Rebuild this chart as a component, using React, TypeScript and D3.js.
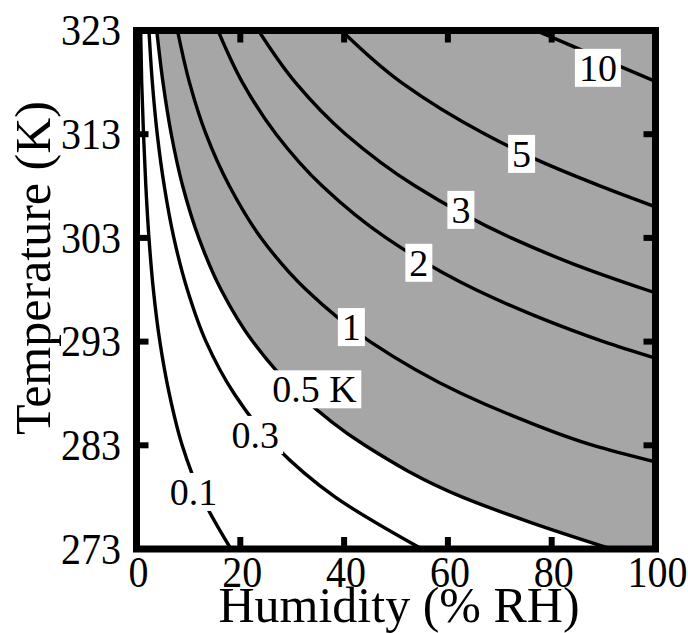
import React, { useEffect, useRef } from "react";
import * as d3 from "d3";

// Axis ticks
const humidityTicks = [0, 20, 40, 60, 80, 100];
const temperatureTicks = [273, 283, 293, 303, 313, 323];

// Contour lines, points read as [humidity %RH, temperature K]
const contour01 = [[0.8, 323], [1.0, 318], [1.35, 313], [1.8, 308], [2.4, 303], [3.25, 298], [4.5, 293], [6.3, 288], [8.8, 283], [12.6, 278], [18.2, 273]];
const contour03 = [[2.4, 323], [3.05, 318], [4.0, 313], [5.35, 308], [7.2, 303], [9.8, 298], [13.4, 293], [18.8, 288], [26.6, 283], [38.3, 278], [55.0, 273]];
const contour05 = [[3.9, 323], [5.1, 318], [6.7, 313], [8.9, 308], [12.0, 303], [16.3, 298], [22.4, 293], [31.2, 288], [44.0, 283], [62.8, 278], [76.3, 275.5], [91.5, 273]];
const contour1 = [[7.9, 323], [10.2, 318], [13.4, 313], [17.9, 308], [24.0, 303], [32.7, 298], [45.0, 293], [62.6, 288], [74.2, 285.5], [88.0, 283], [100, 281.4]];
const contour2 = [[15.7, 323], [20.4, 318], [26.9, 313], [35.8, 308], [48.1, 303], [65.4, 298], [76.7, 295.5], [90.0, 293], [100, 291.4]];
const contour3 = [[23.5, 323], [30.6, 318], [40.3, 313], [53.7, 308], [72.2, 303], [84.1, 300.5], [98.2, 298], [100, 297.7]];
const contour5 = [[39.5, 323], [51.0, 318], [67.2, 313], [77.3, 310.5], [89.4, 308], [100, 306.0]];
const contour10 = [[77.0, 323], [88.6, 320.5], [100, 318.1]];

const contourLines = [contour01, contour03, contour05, contour1, contour2, contour3, contour5, contour10];

// Contour labels
const labelTexts = ["0.1", "0.3", "0.5 K", "1", "2", "3", "5", "10"];
const labelRH = [11.0, 22.9, 34.3, 41.4, 54.4, 62.5, 74.2, 88.9];
const labelT = [278.5, 284.0, 288.4, 294.4, 300.6, 305.7, 311.1, 319.4];

export default function App() {
  const ref = useRef<SVGSVGElement>(null);

  useEffect(() => {
    const svg = d3.select(ref.current);
    svg.selectAll("*").remove();
    const m = { left: 136.5, right: 655.5, top: 30.5, bottom: 549 };
    const font = '"Liberation Serif","Times New Roman",Times,serif';
    const x = d3.scaleLinear().domain([0, 100]).range([m.left, m.right]);
    const y = d3.scaleLinear().domain([273, 323]).range([m.bottom, m.top]);

    svg.append("rect").attr("width", 688).attr("height", 633).attr("fill", "#fff");

    svg.append("defs").append("clipPath").attr("id", "plotclip")
      .append("rect").attr("x", m.left).attr("y", m.top)
      .attr("width", m.right - m.left).attr("height", m.bottom - m.top);

    const g = svg.append("g").attr("clip-path", "url(#plotclip)");
    const line = d3.line<number[]>().x(d => x(d[0])).y(d => y(d[1])).curve(d3.curveMonotoneY);

    const areaPath = line(contour05) + `L${x(100) + 10},${y(273) + 10}L${x(100) + 10},${y(323) - 10}L${x(contour05[0][0])},${y(323) - 10}Z`;
    g.append("path").attr("d", areaPath).attr("fill", "#a6a6a6");

    contourLines.forEach(pts => {
      g.append("path").attr("d", line(pts)).attr("fill", "none")
        .attr("stroke", "#000").attr("stroke-width", 3.4);
    });

    const fs = 38;
    labelTexts.forEach((t, i) => {
      const cx = x(labelRH[i]);
      const cy = y(labelT[i]);
      const lg = g.append("g");
      const rect = lg.append("rect").attr("fill", "#fff");
      const txt = lg.append("text").attr("x", cx).attr("y", cy + fs * 0.34)
        .attr("text-anchor", "middle").attr("font-family", font)
        .attr("font-size", fs).attr("fill", "#000").text(t);
      const bb = (txt.node() as SVGTextElement).getBBox();
      rect.attr("x", bb.x - 4).attr("y", cy - 19).attr("width", bb.width + 8).attr("height", 38);
    });

    // ticks
    const tk = svg.append("g").attr("stroke", "#000").attr("stroke-width", 6);
    humidityTicks.filter(v => v > 0 && v < 100).forEach(v => {
      tk.append("line").attr("x1", x(v)).attr("x2", x(v)).attr("y1", m.bottom).attr("y2", m.bottom - 12);
      tk.append("line").attr("x1", x(v)).attr("x2", x(v)).attr("y1", m.top).attr("y2", m.top + 12);
    });
    temperatureTicks.filter(v => v > 273 && v < 323).forEach(v => {
      tk.append("line").attr("y1", y(v)).attr("y2", y(v)).attr("x1", m.left).attr("x2", m.left + 12);
      tk.append("line").attr("y1", y(v)).attr("y2", y(v)).attr("x1", m.right).attr("x2", m.right - 12);
    });

    // frame
    svg.append("rect").attr("x", m.left).attr("y", m.top)
      .attr("width", m.right - m.left).attr("height", m.bottom - m.top)
      .attr("fill", "none").attr("stroke", "#000").attr("stroke-width", 7);

    // tick labels (slightly tall glyphs as in the reference)
    const tfs = 40;
    humidityTicks.forEach(v => {
      svg.append("text").attr("transform", `translate(${x(v) + 2},587) scale(1,1.1)`)
        .attr("text-anchor", "middle")
        .attr("font-family", font).attr("font-size", tfs).text(String(v));
    });
    temperatureTicks.forEach(v => {
      svg.append("text").attr("transform", `translate(121,${y(v) + tfs * 0.37}) scale(1,1.1)`)
        .attr("text-anchor", "end")
        .attr("font-family", font).attr("font-size", tfs).text(String(v));
    });

    // axis titles
    svg.append("text").attr("x", 399).attr("y", 622).attr("text-anchor", "middle")
      .attr("font-family", font).attr("font-size", 50).text("Humidity (% RH)");
    svg.append("text").attr("transform", `translate(50,268) rotate(-90)`).attr("text-anchor", "middle")
      .attr("font-family", font).attr("font-size", 50).text("Temperature (K)");
  }, []);

  return <svg ref={ref} width={688} height={633} style={{ position: "absolute", left: 0, top: 0 }} />;
}
